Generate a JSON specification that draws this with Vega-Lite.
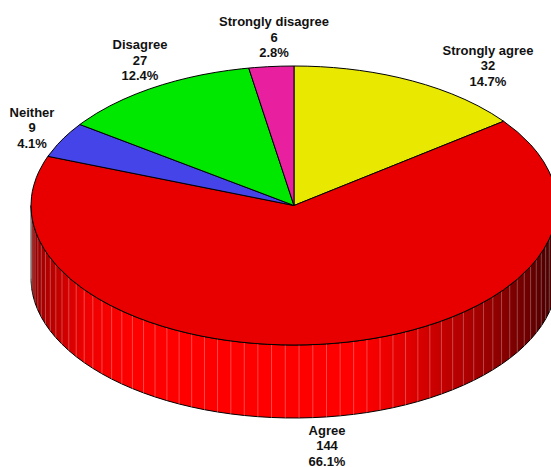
{"$schema":"https://vega.github.io/schema/vega-lite/v6.json","width":551,"height":467,"padding":0,"autosize":{"type":"none"},"background":"white","config":{"view":{"stroke":null}},
"datasets":{"wall":[
{"x":-1,"top":0,"bot":-0.5233},{"x":-0.9998,"top":-0.0192,"bot":-0.5425},{"x":-0.9974,"top":-0.0715,"bot":-0.5948},{"x":-0.9923,"top":-0.1236,"bot":-0.6469},{"x":-0.9845,"top":-0.1754,"bot":-0.6987},{"x":-0.974,"top":-0.2267,"bot":-0.75},{"x":-0.9608,"top":-0.2773,"bot":-0.8006},{"x":-0.9449,"top":-0.3272,"bot":-0.8505},{"x":-0.9265,"top":-0.3762,"bot":-0.8995},{"x":-0.9056,"top":-0.4242,"bot":-0.9475},{"x":-0.8821,"top":-0.471,"bot":-0.9943},{"x":-0.8563,"top":-0.5165,"bot":-1.0398},{"x":-0.8281,"top":-0.5606,"bot":-1.0839},{"x":-0.7976,"top":-0.6032,"bot":-1.1265},{"x":-0.7649,"top":-0.6441,"bot":-1.1674},{"x":-0.7302,"top":-0.6833,"bot":-1.2066},{"x":-0.6934,"top":-0.7206,"bot":-1.2439},{"x":-0.6547,"top":-0.7559,"bot":-1.2792},{"x":-0.6143,"top":-0.7891,"bot":-1.3124},{"x":-0.5721,"top":-0.8202,"bot":-1.3435},{"x":-0.5284,"top":-0.849,"bot":-1.3723},{"x":-0.4833,"top":-0.8755,"bot":-1.3988},{"x":-0.4368,"top":-0.8996,"bot":-1.4229},{"x":-0.3891,"top":-0.9212,"bot":-1.4445},{"x":-0.3404,"top":-0.9403,"bot":-1.4636},{"x":-0.2907,"top":-0.9568,"bot":-1.4801},{"x":-0.2402,"top":-0.9707,"bot":-1.494},{"x":-0.1891,"top":-0.982,"bot":-1.5053},{"x":-0.1374,"top":-0.9905,"bot":-1.5138},{"x":-0.0854,"top":-0.9963,"bot":-1.5196},{"x":-0.0332,"top":-0.9995,"bot":-1.5228},
{"x":0.0192,"top":-0.9998,"bot":-1.5231},{"x":0.0715,"top":-0.9974,"bot":-1.5207},{"x":0.1236,"top":-0.9923,"bot":-1.5156},{"x":0.1754,"top":-0.9845,"bot":-1.5078},{"x":0.2267,"top":-0.974,"bot":-1.4973},{"x":0.2773,"top":-0.9608,"bot":-1.4841},{"x":0.3272,"top":-0.9449,"bot":-1.4682},{"x":0.3762,"top":-0.9265,"bot":-1.4498},{"x":0.4242,"top":-0.9056,"bot":-1.4289},{"x":0.471,"top":-0.8821,"bot":-1.4054},{"x":0.5165,"top":-0.8563,"bot":-1.3796},{"x":0.5606,"top":-0.8281,"bot":-1.3514},{"x":0.6032,"top":-0.7976,"bot":-1.3209},{"x":0.6441,"top":-0.7649,"bot":-1.2882},{"x":0.6833,"top":-0.7302,"bot":-1.2535},{"x":0.7206,"top":-0.6934,"bot":-1.2167},{"x":0.7559,"top":-0.6547,"bot":-1.178},{"x":0.7891,"top":-0.6143,"bot":-1.1376},{"x":0.8202,"top":-0.5721,"bot":-1.0954},{"x":0.849,"top":-0.5284,"bot":-1.0517},{"x":0.8755,"top":-0.4833,"bot":-1.0066},{"x":0.8996,"top":-0.4368,"bot":-0.9601},{"x":0.9212,"top":-0.3891,"bot":-0.9124},{"x":0.9403,"top":-0.3404,"bot":-0.8637},{"x":0.9568,"top":-0.2907,"bot":-0.814},{"x":0.9707,"top":-0.2402,"bot":-0.7635},{"x":0.982,"top":-0.1891,"bot":-0.7124},{"x":0.9905,"top":-0.1374,"bot":-0.6607},{"x":0.9963,"top":-0.0854,"bot":-0.6087},{"x":0.9995,"top":-0.0332,"bot":-0.5565},{"x":1,"top":0,"bot":-0.5233}
],
"slices":[
{"slice":"Strongly agree","x":0,"top":1,"bot":0},{"slice":"Strongly agree","x":0.05,"top":0.99875,"bot":0.0379},{"slice":"Strongly agree","x":0.1,"top":0.99499,"bot":0.0758},{"slice":"Strongly agree","x":0.15,"top":0.98869,"bot":0.1137},{"slice":"Strongly agree","x":0.2,"top":0.9798,"bot":0.1516},{"slice":"Strongly agree","x":0.25,"top":0.96825,"bot":0.1895},{"slice":"Strongly agree","x":0.3,"top":0.95394,"bot":0.2273},{"slice":"Strongly agree","x":0.35,"top":0.93675,"bot":0.2652},{"slice":"Strongly agree","x":0.4,"top":0.91652,"bot":0.3031},{"slice":"Strongly agree","x":0.45,"top":0.89303,"bot":0.341},{"slice":"Strongly agree","x":0.5,"top":0.86603,"bot":0.3789},{"slice":"Strongly agree","x":0.55,"top":0.83516,"bot":0.4168},{"slice":"Strongly agree","x":0.6,"top":0.8,"bot":0.4547},{"slice":"Strongly agree","x":0.65,"top":0.75993,"bot":0.4926},{"slice":"Strongly agree","x":0.7,"top":0.71414,"bot":0.5305},{"slice":"Strongly agree","x":0.75,"top":0.66144,"bot":0.5684},{"slice":"Strongly agree","x":0.797,"top":0.604,"bot":0.604},
{"slice":"Agree","x":-1,"top":0,"bot":0},{"slice":"Agree","x":-0.998,"top":0.06321,"bot":-0.06321},{"slice":"Agree","x":-0.995,"top":0.09987,"bot":-0.09987},{"slice":"Agree","x":-0.99,"top":0.14107,"bot":-0.14107},{"slice":"Agree","x":-0.98,"top":0.199,"bot":-0.199},{"slice":"Agree","x":-0.97,"top":0.2431,"bot":-0.2431},{"slice":"Agree","x":-0.95,"top":0.31225,"bot":-0.31225},{"slice":"Agree","x":-0.9358,"top":0.3526,"bot":-0.3526},{"slice":"Agree","x":-0.9,"top":0.3391,"bot":-0.43589},{"slice":"Agree","x":-0.85,"top":0.3203,"bot":-0.52678},{"slice":"Agree","x":-0.8,"top":0.3014,"bot":-0.6},{"slice":"Agree","x":-0.75,"top":0.2826,"bot":-0.66144},{"slice":"Agree","x":-0.7,"top":0.2638,"bot":-0.71414},{"slice":"Agree","x":-0.65,"top":0.2449,"bot":-0.75993},{"slice":"Agree","x":-0.6,"top":0.2261,"bot":-0.8},{"slice":"Agree","x":-0.55,"top":0.2072,"bot":-0.83516},{"slice":"Agree","x":-0.5,"top":0.1884,"bot":-0.86603},{"slice":"Agree","x":-0.45,"top":0.1696,"bot":-0.89303},{"slice":"Agree","x":-0.4,"top":0.1507,"bot":-0.91652},{"slice":"Agree","x":-0.35,"top":0.1319,"bot":-0.93675},{"slice":"Agree","x":-0.3,"top":0.113,"bot":-0.95394},{"slice":"Agree","x":-0.25,"top":0.0942,"bot":-0.96825},{"slice":"Agree","x":-0.2,"top":0.0754,"bot":-0.9798},{"slice":"Agree","x":-0.15,"top":0.0565,"bot":-0.98869},{"slice":"Agree","x":-0.1,"top":0.0377,"bot":-0.99499},{"slice":"Agree","x":-0.05,"top":0.0188,"bot":-0.99875},{"slice":"Agree","x":0,"top":0,"bot":-1},{"slice":"Agree","x":0.05,"top":0.0379,"bot":-0.99875},{"slice":"Agree","x":0.1,"top":0.0758,"bot":-0.99499},{"slice":"Agree","x":0.15,"top":0.1137,"bot":-0.98869},{"slice":"Agree","x":0.2,"top":0.1516,"bot":-0.9798},{"slice":"Agree","x":0.25,"top":0.1895,"bot":-0.96825},{"slice":"Agree","x":0.3,"top":0.2273,"bot":-0.95394},{"slice":"Agree","x":0.35,"top":0.2652,"bot":-0.93675},{"slice":"Agree","x":0.4,"top":0.3031,"bot":-0.91652},{"slice":"Agree","x":0.45,"top":0.341,"bot":-0.89303},{"slice":"Agree","x":0.5,"top":0.3789,"bot":-0.86603},{"slice":"Agree","x":0.55,"top":0.4168,"bot":-0.83516},{"slice":"Agree","x":0.6,"top":0.4547,"bot":-0.8},{"slice":"Agree","x":0.65,"top":0.4926,"bot":-0.75993},{"slice":"Agree","x":0.7,"top":0.5305,"bot":-0.71414},{"slice":"Agree","x":0.75,"top":0.5684,"bot":-0.66144},{"slice":"Agree","x":0.797,"top":0.604,"bot":-0.604},{"slice":"Agree","x":0.85,"top":0.52678,"bot":-0.52678},{"slice":"Agree","x":0.9,"top":0.43589,"bot":-0.43589},{"slice":"Agree","x":0.925,"top":0.37997,"bot":-0.37997},{"slice":"Agree","x":0.95,"top":0.31225,"bot":-0.31225},{"slice":"Agree","x":0.97,"top":0.2431,"bot":-0.2431},{"slice":"Agree","x":0.98,"top":0.199,"bot":-0.199},{"slice":"Agree","x":0.99,"top":0.14107,"bot":-0.14107},{"slice":"Agree","x":0.995,"top":0.09987,"bot":-0.09987},{"slice":"Agree","x":0.998,"top":0.06321,"bot":-0.06321},{"slice":"Agree","x":1,"top":0,"bot":0},
{"slice":"Neither","x":-0.9358,"top":0.3526,"bot":0.3526},{"slice":"Neither","x":-0.9,"top":0.43589,"bot":0.3391},{"slice":"Neither","x":-0.875,"top":0.48412,"bot":0.3297},{"slice":"Neither","x":-0.85,"top":0.52678,"bot":0.3203},{"slice":"Neither","x":-0.8141,"top":0.5807,"bot":0.3067},{"slice":"Neither","x":0,"top":0,"bot":0},
{"slice":"Disagree","x":-0.8141,"top":0.5807,"bot":0.5807},{"slice":"Disagree","x":-0.8,"top":0.6,"bot":0.5706},{"slice":"Disagree","x":-0.75,"top":0.66144,"bot":0.535},{"slice":"Disagree","x":-0.7,"top":0.71414,"bot":0.4993},{"slice":"Disagree","x":-0.65,"top":0.75993,"bot":0.4636},{"slice":"Disagree","x":-0.6,"top":0.8,"bot":0.428},{"slice":"Disagree","x":-0.55,"top":0.83516,"bot":0.3923},{"slice":"Disagree","x":-0.5,"top":0.86603,"bot":0.3567},{"slice":"Disagree","x":-0.45,"top":0.89303,"bot":0.321},{"slice":"Disagree","x":-0.4,"top":0.91652,"bot":0.2853},{"slice":"Disagree","x":-0.35,"top":0.93675,"bot":0.2497},{"slice":"Disagree","x":-0.3,"top":0.95394,"bot":0.214},{"slice":"Disagree","x":-0.25,"top":0.96825,"bot":0.1783},{"slice":"Disagree","x":-0.2,"top":0.9798,"bot":0.1427},{"slice":"Disagree","x":-0.1721,"top":0.9851,"bot":0.1228},{"slice":"Disagree","x":0,"top":0,"bot":0},
{"slice":"Strongly disagree","x":-0.1721,"top":0.9851,"bot":0.9851},{"slice":"Strongly disagree","x":-0.15,"top":0.98869,"bot":0.8586},{"slice":"Strongly disagree","x":-0.1,"top":0.99499,"bot":0.5724},{"slice":"Strongly disagree","x":-0.05,"top":0.99875,"bot":0.2862},{"slice":"Strongly disagree","x":0,"top":1,"bot":0}
],
"labels":[
{"label":"Strongly agree\n32\n14.7%","x":0.7376,"y":1.111},
{"label":"Agree\n144\n66.1%","x":0.1255,"y":-1.613},
{"label":"Neither\n9\n4.1%","x":-0.9962,"y":0.6666},
{"label":"Disagree\n27\n12.4%","x":-0.5856,"y":1.147},
{"label":"Strongly disagree\n6\n2.8%","x":-0.076,"y":1.312}
]},
"layer":[
{"data":{"name":"wall"},"mark":{"type":"area","orient":"vertical","stroke":"black","strokeWidth":1,"fill":{"gradient":"linear","x1":0,"y1":0,"x2":1,"y2":0,"stops":[{"offset":0,"color":"#8a0000"},{"offset":0.03,"color":"#b00000"},{"offset":0.1,"color":"#ee0000"},{"offset":0.2,"color":"#ff0000"},{"offset":0.62,"color":"#ff0000"},{"offset":0.72,"color":"#e00000"},{"offset":0.84,"color":"#a80000"},{"offset":0.94,"color":"#700000"},{"offset":1,"color":"#400000"}]}},
"encoding":{"x":{"field":"x","type":"quantitative","scale":{"domain":[-1.11787,0.97719],"nice":false,"zero":false},"axis":null},"y":{"field":"top","type":"quantitative","scale":{"domain":[-1.87455,1.47312],"nice":false,"zero":false},"axis":null},"y2":{"field":"bot"}}},
{"data":{"name":"wall"},"mark":{"type":"rule","color":"white","opacity":0.28,"strokeWidth":1},
"encoding":{"x":{"field":"x","type":"quantitative"},"y":{"field":"top","type":"quantitative"},"y2":{"field":"bot"}}},
{"data":{"name":"slices"},"mark":{"type":"area","orient":"vertical","stroke":"black","strokeWidth":1},
"encoding":{"x":{"field":"x","type":"quantitative"},"y":{"field":"top","type":"quantitative"},"y2":{"field":"bot"},"color":{"field":"slice","type":"nominal","legend":null,"scale":{"domain":["Strongly agree","Agree","Neither","Disagree","Strongly disagree"],"range":["#e8e800","#e80000","#4444e8","#00e800","#e820a0"]}}}},
{"data":{"name":"labels"},"mark":{"type":"text","font":"Liberation Sans","fontWeight":"bold","fontSize":13,"lineBreak":"\n","lineHeight":15.5,"align":"center","baseline":"middle","color":"#111111"},
"encoding":{"x":{"field":"x","type":"quantitative"},"y":{"field":"y","type":"quantitative"},"text":{"field":"label","type":"nominal"}}}
]}
